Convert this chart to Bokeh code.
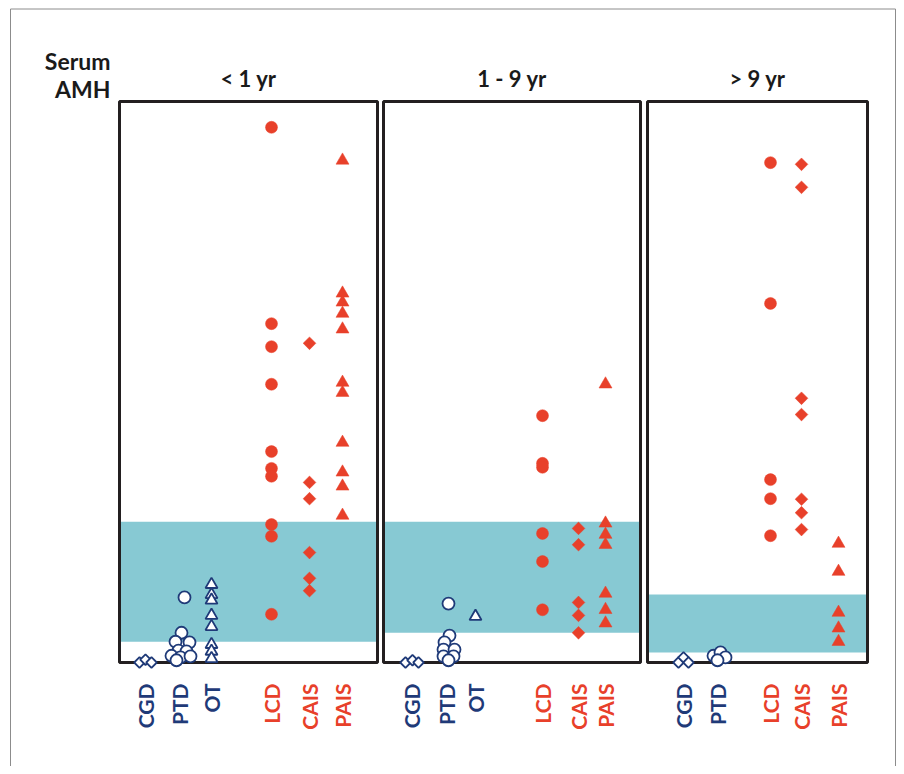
import numpy as np
from bokeh.plotting import figure
from bokeh.models import Range1d
from bokeh.core.properties import value
from bokeh.embed import file_html
from bokeh.resources import INLINE

# ---------------- data (relative serum AMH level, 0 = undetectable) ----------------
panel_titles = ["< 1 yr", "1 - 9 yr", "> 9 yr"]
y_title = ["Serum", "AMH"]
groups_p1 = ["CGD", "PTD", "OT", "LCD", "CAIS", "PAIS"]
groups_p2 = ["CGD", "PTD", "OT", "LCD", "CAIS", "PAIS"]
groups_p3 = ["CGD", "PTD", "LCD", "CAIS", "PAIS"]

# < 1 yr
p1_CGD = [0.0, 0.5, 0.0]
p1_PTD = [11.6, 5.3, 3.7, 3.6, 2.1, 2.0, 1.2, 0.9, 1.1, 0.4]
p1_OT = [13.9, 12.1, 11.1, 8.4, 6.4, 3.2, 2.0, 0.7]
p1_LCD = [95.4, 60.4, 56.3, 49.6, 37.6, 34.6, 33.2, 24.6, 22.5, 8.6]
p1_CAIS = [56.9, 32.1, 29.2, 19.6, 15.0, 12.8]
p1_PAIS = [89.5, 65.8, 64.2, 62.2, 59.4, 49.9, 48.1, 39.2, 33.9, 31.4, 26.2]
p1_normal = [3.7, 25.1]

# 1 - 9 yr
p2_CGD = [0.0, 0.4, 0.0]
p2_PTD = [10.5, 4.8, 3.6, 2.3, 2.3, 1.1, 1.1, 0.4]
p2_OT = [8.2]
p2_LCD = [44.0, 35.5, 34.8, 23.0, 18.0, 9.4]
p2_CAIS = [23.9, 21.0, 10.7, 8.4, 5.3]
p2_PAIS = [49.6, 24.8, 22.8, 21.0, 12.3, 9.4, 7.0]
p2_normal = [5.3, 25.1]

# > 9 yr
p3_CGD = [0.0, 0.9, 0.0]
p3_PTD = [1.2, 1.8, 0.9, 0.4]
p3_LCD = [89.1, 64.0, 32.6, 29.2, 22.6]
p3_CAIS = [88.8, 84.7, 47.1, 44.2, 29.1, 26.7, 23.7]
p3_PAIS = [21.2, 16.2, 8.9, 6.1, 3.7]
p3_normal = [1.8, 12.1]

# ---------------- layout ----------------
NAVY = "#1f3a78"
RED = "#e8402a"
TEAL = "#87c9d3"
FRAME = "#231f20"
FONT = value("Lato")

W, H = 896, 766
TOP_PX, BOT_PX = 101, 662
SCALE = (BOT_PX - TOP_PX) / 100.0


def ypx(py):
    """pixel row -> value units (layout helper only)"""
    return (BOT_PX - py) / SCALE


panel_x = [(119, 377), (383, 640), (647, 867)]
cat_x = [
    {"CGD": 145, "PTD": 179, "OT": 211, "LCD": 271, "CAIS": 309, "PAIS": 342},
    {"CGD": 411, "PTD": 446, "OT": 475, "LCD": 542, "CAIS": 578, "PAIS": 605},
    {"CGD": 683, "PTD": 717, "LCD": 770, "CAIS": 801, "PAIS": 838},
]
# horizontal spread for overlapping open symbols (px)
spread = {
    (0, "CGD"): [-6, 0, 6],
    (0, "PTD"): [5, 2, -4, 10, -1, 7, -8, 1, 11, -3],
    (1, "CGD"): [-6, 1, 7],
    (1, "PTD"): [2, 3, -2, -3, 8, -3, 7, 2],
    (2, "CGD"): [-5, 0, 5],
    (2, "PTD"): [-4, 3, 8, 0],
}

panel_data = [
    {"CGD": p1_CGD, "PTD": p1_PTD, "OT": p1_OT, "LCD": p1_LCD, "CAIS": p1_CAIS, "PAIS": p1_PAIS},
    {"CGD": p2_CGD, "PTD": p2_PTD, "OT": p2_OT, "LCD": p2_LCD, "CAIS": p2_CAIS, "PAIS": p2_PAIS},
    {"CGD": p3_CGD, "PTD": p3_PTD, "LCD": p3_LCD, "CAIS": p3_CAIS, "PAIS": p3_PAIS},
]
panel_groups = [groups_p1, groups_p2, groups_p3]
normals = [p1_normal, p2_normal, p3_normal]

p = figure(width=W, height=H, output_backend="svg", toolbar_location=None,
           x_range=Range1d(0, W), y_range=Range1d(ypx(H), ypx(0)),
           min_border=0, outline_line_color=None)
p.axis.visible = False
p.grid.visible = False
p.background_fill_color = "white"

# outer border (left, top, right)
p.line(x=[10, 10, 895, 895], y=[ypx(800), ypx(8.5), ypx(8.5), ypx(800)],
       line_color="#8c8c8c", line_width=1)

# normal-range bands
for (x0, x1), nr in zip(panel_x, normals):
    p.quad(left=x0, right=x1, bottom=nr[0], top=nr[1], fill_color=TEAL,
           line_color=None)

# panel frames
for (x0, x1) in panel_x:
    p.quad(left=x0, right=x1, bottom=0, top=100, fill_color=None,
           line_color=FRAME, line_width=3)

marker_of = {"CGD": ("square", np.pi / 4), "PTD": ("circle", 0), "OT": ("triangle", 0),
             "LCD": ("circle", 0), "CAIS": ("square", np.pi / 4), "PAIS": ("triangle", 0)}
open_size = {"CGD": 7.5, "PTD": 12, "OT": 12}
fill_size = {"LCD": 12, "CAIS": 9, "PAIS": 13}

for i, groups in enumerate(panel_groups):
    for g in groups:
        vals = panel_data[i][g]
        dx = spread.get((i, g), [0] * len(vals))
        xs = [cat_x[i][g] + d for d in dx]
        mk, ang = marker_of[g]
        if g in open_size:
            p.scatter(x=xs, y=vals, marker=mk, angle=ang, size=open_size[g],
                      fill_color="white", line_color=NAVY, line_width=1.8)
        else:
            p.scatter(x=xs, y=vals, marker=mk, angle=ang, size=fill_size[g],
                      fill_color=RED, line_color=RED, line_width=0.5)

# category labels (vertical)
for i, groups in enumerate(panel_groups):
    xs = [cat_x[i][g] for g in groups]
    cols = [NAVY if g in ("CGD", "PTD", "OT") else RED for g in groups]
    p.text(x=xs, y=[ypx(683)] * len(groups), text=groups, angle=np.pi / 2,
           text_align="right", text_baseline="middle", text_color=cols,
           text_font=FONT, text_font_style="bold", text_font_size="21px")

# panel titles
p.text(x=[(a + b) / 2 for a, b in panel_x], y=[ypx(78)] * 3, text=panel_titles,
       text_align="center", text_baseline="middle", text_color="#1a1a1a",
       text_font=FONT, text_font_style="bold", text_font_size="22px")

# y title
p.text(x=[110, 110], y=[ypx(60), ypx(88)], text=y_title,
       text_align="right", text_baseline="middle", text_color="#1a1a1a",
       text_font=FONT, text_font_style="bold", text_font_size="23px")

open("out.html", "w").write(file_html(p, INLINE))
